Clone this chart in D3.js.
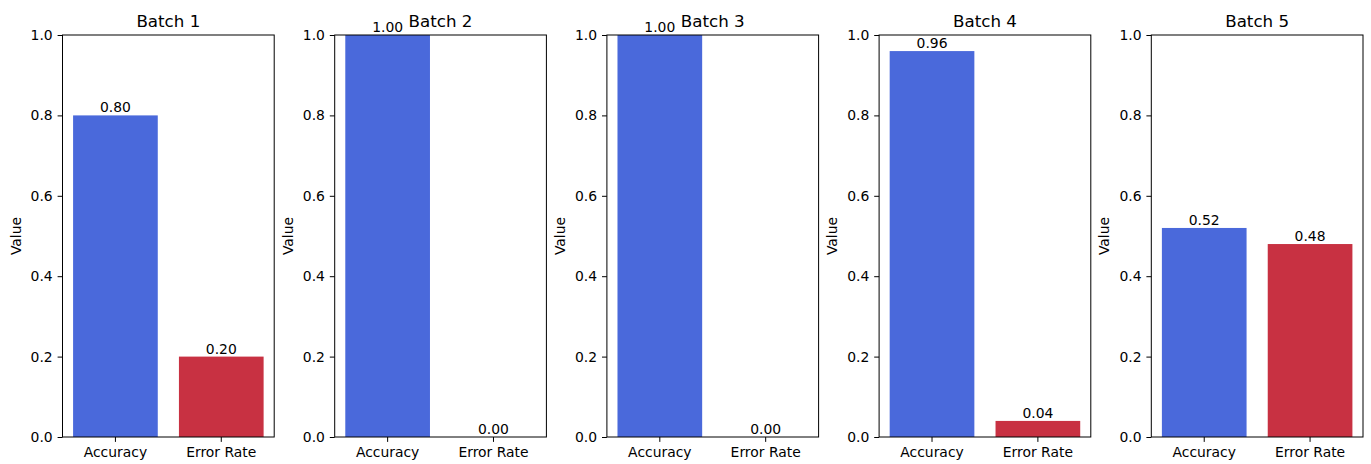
<!DOCTYPE html>
<html><head><meta charset="utf-8">
<script src="https://cdn.jsdelivr.net/npm/d3@7"></script>
<style>body{margin:0;background:#fff}svg{display:block}text{font-family:"DejaVu Sans",sans-serif;fill:#000}</style>
</head><body>
<script>
const batches = ["Batch 1","Batch 2","Batch 3","Batch 4","Batch 5"];
const categories = ["Accuracy","Error Rate"];
const accuracy = [0.80, 1.00, 1.00, 0.96, 0.52];
const errorRate = [0.20, 0.00, 0.00, 0.04, 0.48];
const yTicks = [0.0, 0.2, 0.4, 0.6, 0.8, 1.0];
const barColors = ["#4a69db", "#c83142"];

(function(){
const W = 1371, H = 464;
const svg = d3.select("body").append("svg").attr("width", W).attr("height", H);
const yTop = 35, yBot = 437, pw = 211.7, step = 272.2, left0 = 62.5;
const y = d3.scaleLinear().domain([0, 1]).range([yBot, yTop]);
const x = d3.scaleBand().domain(categories).range([0, pw]).paddingInner(0.2).paddingOuter(0.1);

batches.forEach((b, i) => {
  const g = svg.append("g").attr("transform", `translate(${left0 + i*step},0)`);
  const vals = [accuracy[i], errorRate[i]];
  g.selectAll("rect.bar").data(vals).enter().append("rect").attr("class","bar")
    .attr("x", (d, j) => x(categories[j]))
    .attr("width", x.bandwidth())
    .attr("y", d => y(d))
    .attr("height", d => y(0) - y(d))
    .attr("fill", (d, j) => barColors[j]);
  g.selectAll("text.lbl").data(vals).enter().append("text").attr("class","lbl")
    .attr("x", (d, j) => x(categories[j]) + x.bandwidth()/2)
    .attr("y", d => y(d) - 3)
    .attr("text-anchor", "middle").attr("font-size", "13.9px")
    .text(d => d.toFixed(2));
  const ya = g.append("g").call(d3.axisLeft(y).tickValues(yTicks).tickFormat(d3.format(".1f")).tickSizeOuter(0).tickSize(4.9).tickPadding(4.9));
  ya.selectAll("text").attr("font-size", "13.9px").attr("font-family", "DejaVu Sans");
  const xa = g.append("g").attr("transform", `translate(0,${yBot})`).call(d3.axisBottom(x).tickSizeOuter(0).tickSize(4.9).tickPadding(4.9));
  xa.selectAll("text").attr("font-size", "13.9px").attr("font-family", "DejaVu Sans");
  [ya, xa].forEach(a => { a.select(".domain").remove(); a.selectAll("line").attr("stroke", "#000").attr("stroke-width", 1); });
  g.append("rect").attr("x", 0).attr("y", yTop).attr("width", pw).attr("height", yBot - yTop)
    .attr("fill", "none").attr("stroke", "#000").attr("stroke-width", 1);
  g.append("text").attr("x", pw/2).attr("y", yTop - 8.3).attr("text-anchor", "middle").attr("font-size", "16.7px").text(b);
  g.append("text").attr("transform", `translate(-42,${(yTop+yBot)/2}) rotate(-90)`).attr("text-anchor", "middle").attr("font-size", "13.9px").text("Value");
});
})();
</script>
</body></html>
